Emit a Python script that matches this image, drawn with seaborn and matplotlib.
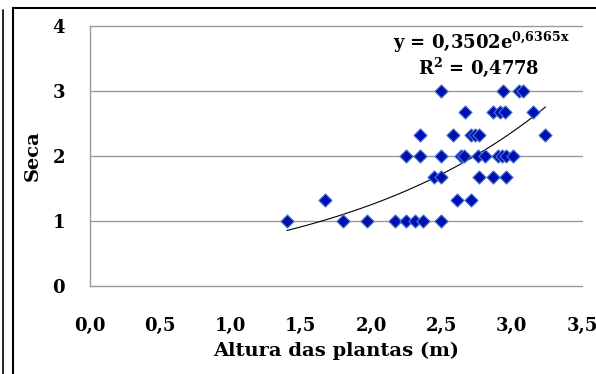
import numpy as np
import pandas as pd
import seaborn as sns
import matplotlib.pyplot as plt
from matplotlib.lines import Line2D
from matplotlib.patches import Rectangle

# valores
altura = [1.40, 1.80, 1.97, 2.17, 2.25, 2.31, 2.37, 2.50,
          1.67, 2.61, 2.71,
          2.45, 2.50, 2.77, 2.87, 2.96,
          2.25, 2.35, 2.50, 2.64, 2.66, 2.76, 2.81, 2.90, 2.93, 2.96, 3.01,
          2.35, 2.58, 2.71, 2.74, 2.77, 3.24,
          2.67, 2.87, 2.92, 2.95, 3.15,
          2.50, 2.94, 3.05, 3.08]
seca = [1, 1, 1, 1, 1, 1, 1, 1,
        1.33, 1.33, 1.33,
        1.67, 1.67, 1.67, 1.67, 1.67,
        2, 2, 2, 2, 2, 2, 2, 2, 2, 2, 2,
        2.33, 2.33, 2.33, 2.33, 2.33, 2.33,
        2.67, 2.67, 2.67, 2.67, 2.67,
        3, 3, 3, 3]
coef_a = 0.3502
coef_b = 0.6365
r2 = 0.4778
xticks = [0, 0.5, 1.0, 1.5, 2.0, 2.5, 3.0, 3.5]
yticks = [0, 1, 2, 3, 4]

df = pd.DataFrame({'altura': altura, 'seca': seca})
xs = np.linspace(min(altura), max(altura), 100)
trend = pd.DataFrame({'x': xs, 'y': coef_a * np.exp(coef_b * xs)})

sns.set_theme(style='white')
plt.rcParams['font.family'] = ['DejaVu Serif']
plt.rcParams['text.color'] = 'black'
plt.rcParams['axes.labelcolor'] = 'black'
plt.rcParams['xtick.color'] = 'black'
plt.rcParams['ytick.color'] = 'black'
plt.rcParams['mathtext.fontset'] = 'custom'
plt.rcParams['mathtext.rm'] = 'DejaVu Serif:bold'
plt.rcParams['mathtext.it'] = 'DejaVu Serif:bold'
plt.rcParams['mathtext.bf'] = 'DejaVu Serif:bold'

fig = plt.figure(figsize=(5.96, 3.74), dpi=100)
ax = fig.add_axes([90 / 596, 1 - 286 / 374, 492 / 596, 260 / 374])

sns.lineplot(data=trend, x='x', y='y', ax=ax, color='black', linewidth=0.8)
sns.scatterplot(data=df, x='altura', y='seca', ax=ax, marker='D', s=45,
                color='#0010B0', edgecolor='#4A78D8', linewidth=0.8, zorder=3)

ax.set_xlim(0, 3.5)
ax.set_ylim(0, 4)
ax.set_xticks(xticks)
ax.set_xticklabels([f'{t:.1f}'.replace('.', ',') for t in xticks])
ax.set_yticks(yticks)
ax.set_yticklabels([str(t) for t in yticks])
ax.tick_params(axis='x', length=0, pad=22, labelsize=13)
ax.tick_params(axis='y', length=0, pad=18, labelsize=13)
for lab in ax.get_xticklabels() + ax.get_yticklabels():
    lab.set_fontweight('bold')
ax.grid(axis='y', color='#9a9a9a', linewidth=1)
for gl in ax.get_ygridlines():
    gl.set_clip_on(False)
for s in ['top', 'right', 'bottom']:
    ax.spines[s].set_visible(False)
ax.spines['left'].set_color('#9a9a9a')
ax.spines['left'].set_linewidth(1)

ax.set_xlabel('Altura das plantas (m)', fontsize=14, fontweight='bold', labelpad=5)
ax.set_ylabel('Seca', fontsize=14, fontweight='bold', labelpad=8)

ax.text(0.975, 0.935, 'y = 0,3502e$^{0{,}6365x}$', transform=ax.transAxes,
        ha='right', va='center', fontsize=13, fontweight='bold')
ax.text(0.79, 0.84, 'R$^{2}$ = 0,4778', transform=ax.transAxes,
        ha='center', va='center', fontsize=13, fontweight='bold')

# moldura externa
fig.add_artist(Line2D([3 / 596, 3 / 596], [0, 1 - 10 / 374], transform=fig.transFigure,
                      color='black', linewidth=1.2))
fig.add_artist(Rectangle((13 / 596, -0.1), 1.2, 1.1 - 8 / 374, transform=fig.transFigure,
                         fill=False, edgecolor='black', linewidth=1.5))

fig.savefig('out.png', dpi=100)
